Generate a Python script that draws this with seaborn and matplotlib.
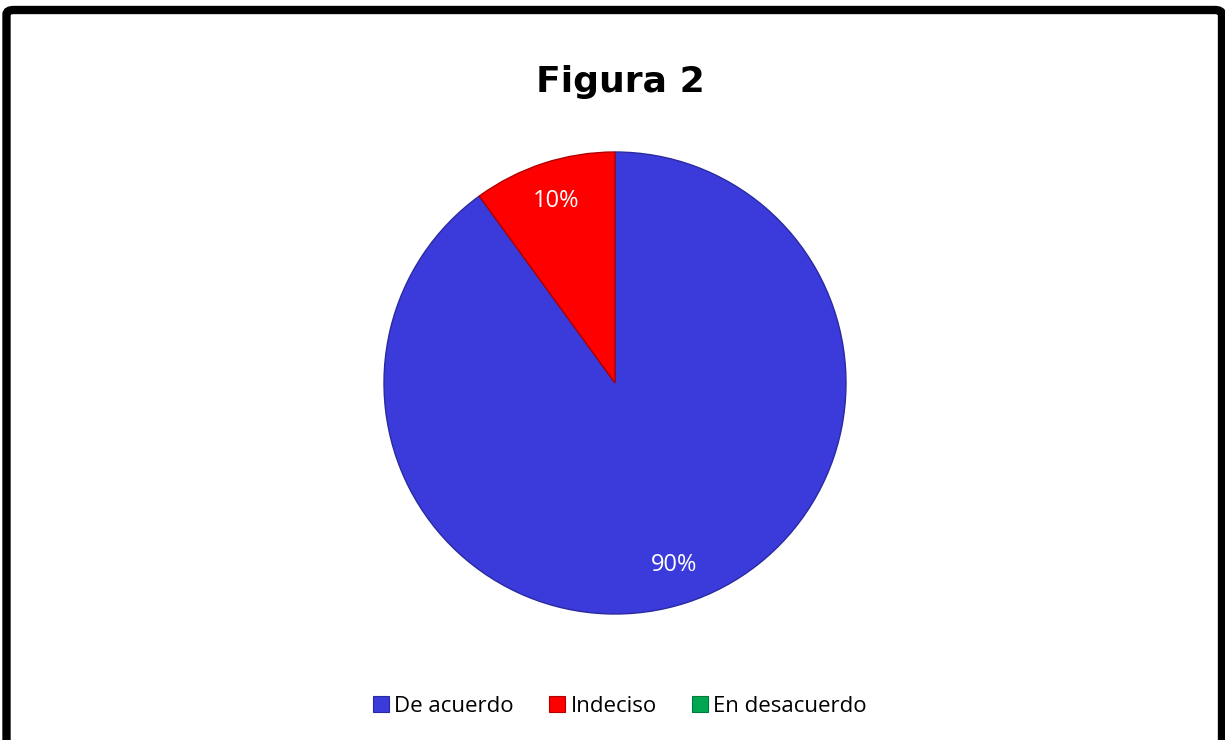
import matplotlib
matplotlib.use("Agg")
import matplotlib.pyplot as plt
import seaborn as sns
from matplotlib.patches import FancyBboxPatch, Patch

categories = ["De acuerdo", "Indeciso", "En desacuerdo"]
values = [90, 10, 0]
colors = ["#3b3bdc", "#ff0000", "#00a651"]
edge_colors = ["#2a2aa0", "#b00000", "#007a3a"]
title = "Figura 2"

sns.set_theme(style="white")
plt.rcParams['font.family'] = ['Open Sans', 'DejaVu Sans']
plt.rcParams['text.color'] = 'black'

W, H = 1225, 740
fig = plt.figure(figsize=(W / 100, H / 100), dpi=100)
fig.patch.set_facecolor("white")

cx, cy, r = 615, 383, 231
ax = fig.add_axes([(cx - r) / W, (H - cy - r) / H, 2 * r / W, 2 * r / H])

def fmt(p):
    return f"{p:.0f}%" if p > 0.5 else ""

wedges, texts, autotexts = ax.pie(
    values, colors=colors, startangle=90, counterclock=False,
    autopct=fmt, pctdistance=0.83,
    wedgeprops=dict(linewidth=1.0),
    textprops=dict(color="white", fontsize=17),
)
for w, ec, v in zip(wedges, edge_colors, values):
    w.set_edgecolor(ec)
    if v == 0:
        w.set_linewidth(0)
ax.set_xlim(-1.0, 1.0)
ax.set_ylim(-1.0, 1.0)
ax.set_aspect("equal")
ax.axis("off")

fig.text(620 / W, 1 - 82 / H, title, ha="center", va="center",
         fontsize=26, fontweight="heavy", family=["DejaVu Sans"], color="black")

handles = [Patch(facecolor=c, edgecolor=e, linewidth=0.8) for c, e in zip(colors, edge_colors)]
leg = fig.legend(handles, categories, loc="center", bbox_to_anchor=(620 / W, 1 - 706 / H),
                 ncol=3, frameon=False, fontsize=16, handlelength=0.7, handleheight=0.7,
                 handletextpad=0.25, columnspacing=1.6)
for t in leg.get_texts():
    t.set_color("black")

border = FancyBboxPatch((6.5 / W, -20 / H), (1222 - 6.5) / W, (H - 10 + 20) / H,
                        boxstyle="round,pad=0,rounding_size=0.006",
                        transform=fig.transFigure, facecolor="none",
                        edgecolor="black", linewidth=6, clip_on=False)
fig.patches.append(border)

fig.savefig("out.png", dpi=100, facecolor="white")
